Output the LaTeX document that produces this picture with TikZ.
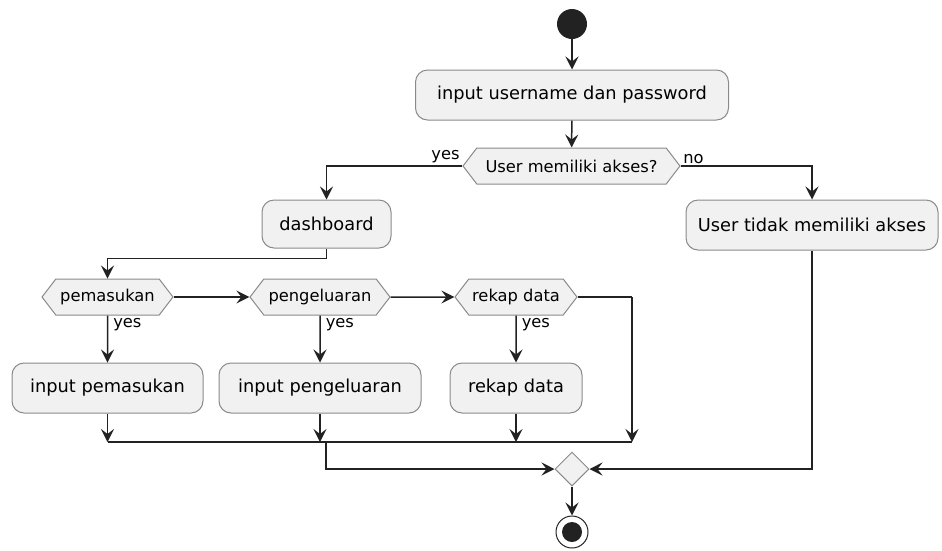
\documentclass[tikz,border=0pt]{standalone}
\usepackage{fontspec}
\setmainfont{DejaVu Sans}
\usetikzlibrary{arrows.meta,shapes.geometric,shapes.symbols}
\definecolor{actfill}{HTML}{F1F1F1}
\definecolor{actline}{HTML}{222222}
\definecolor{actborder}{HTML}{8A8A8A}

\begin{document}
\begin{tikzpicture}
		[x=1pt, y=-1pt,
		% STYLES
		% The activity style is used for the rounded action boxes
		activity/.style={rectangle, rounded corners=12pt, draw=actborder, fill=actfill, line width=1pt, minimum height=50pt, inner xsep=10pt, font=\fontsize{17.8}{20}\selectfont},
		% The decision style (hexagon)
		decision/.style={signal, signal to=west and east, signal pointer angle=105, draw=actborder, fill=actfill, line width=1pt, minimum height=36pt, inner xsep=1pt, font=\fontsize{16.3}{18}\selectfont},
		% merge point
		merge/.style={diamond, draw=actborder, fill=actfill, line width=1pt, minimum size=34pt, inner sep=0pt},
		% start and stop
		startnode/.style={circle, fill=actline, minimum size=30pt, inner sep=0pt},
		stopnode/.style={circle, draw=actline, line width=1pt, minimum size=32pt, inner sep=0pt, path picture={\fill[actline] (path picture bounding box.center) circle (10pt);}},
		% yes / no labels
		guard/.style={font=\fontsize{16.3}{18}\selectfont, inner sep=2pt},
		% the links
		flow/.style={-{Stealth[length=13pt,width=13pt,inset=5pt]}, line width=1.5pt, draw=actline},
		plain/.style={line width=1.5pt, draw=actline}]

		\useasboundingbox (0,0) rectangle (942,550);

		% Draw activities
		\node [startnode] (start) at (572,24) {};
		\node [activity, minimum width=313pt] (login) at (572,95) {input username dan password};
		\node [decision, minimum width=217pt] (akses) at (571.5,166) {User memiliki akses?};

		\node [activity, minimum width=129pt, minimum height=48pt] (dashboard) at (326.5,224) {dashboard};
		\node [activity, minimum width=252pt] (tidak) at (812,225) {User tidak memiliki akses};

		\node [decision, minimum width=131pt] (cekmasuk) at (107.5,297) {pemasukan};
		\node [decision, minimum width=140pt] (cekkeluar) at (320,297) {pengeluaran};
		\node [decision, minimum width=122pt] (cekrekap) at (516,297) {rekap data};

		\node [activity, minimum width=191pt] (masuk) at (107.5,388) {input pemasukan};
		\node [activity, minimum width=202pt] (keluar) at (320,388) {input pengeluaran};
		\node [activity, minimum width=132pt] (rekap) at (516,388) {rekap data};

		\node [merge] (merge) at (572,469) {};
		\node [stopnode] (stop) at (572,532) {};

		%%%%%%%%%%%%%%%
		% Helper points
		\coordinate (skip) at (632,297);
		\coordinate (join-l) at (107.5,442);
		\coordinate (join-r) at (632,442);
		\coordinate (join-m) at (326,442);

		%%%%%%%%%%%%%%%%
		% Draw the links between activities
		\draw[flow] (start) -- (login);
		\draw[flow] (login) -- (akses);
		\draw[flow] (akses.west) -| node[guard, at start, anchor=south east] {yes} (dashboard);
		\draw[flow] (akses.east) -| node[guard, at start, anchor=south west] {no} (tidak);
		\draw[flow] (dashboard.south) -- ++(0,10) -| (cekmasuk.north);

		\draw[flow] (cekmasuk) -- (cekkeluar);
		\draw[flow] (cekkeluar) -- (cekrekap);
		\draw[plain] (cekrekap.east) -- (skip);
		\draw[flow] (skip) -- (join-r);

		\draw[flow] (cekmasuk) -- node[guard, at start, anchor=north west, xshift=3pt] {yes} (masuk);
		\draw[flow] (cekkeluar) -- node[guard, at start, anchor=north west, xshift=3pt] {yes} (keluar);
		\draw[flow] (cekrekap) -- node[guard, at start, anchor=north west, xshift=3pt] {yes} (rekap);

		\draw[flow] (masuk) -- (masuk |- join-l);
		\draw[flow] (keluar) -- (keluar |- join-l);
		\draw[flow] (rekap) -- (rekap |- join-l);
		\draw[plain] (join-l) -- (join-r);

		\draw[flow] (join-m) |- (merge.west);
		\draw[flow] (tidak.south) |- (merge.east);
		\draw[flow] (merge) -- (stop);
\end{tikzpicture}
\end{document}
